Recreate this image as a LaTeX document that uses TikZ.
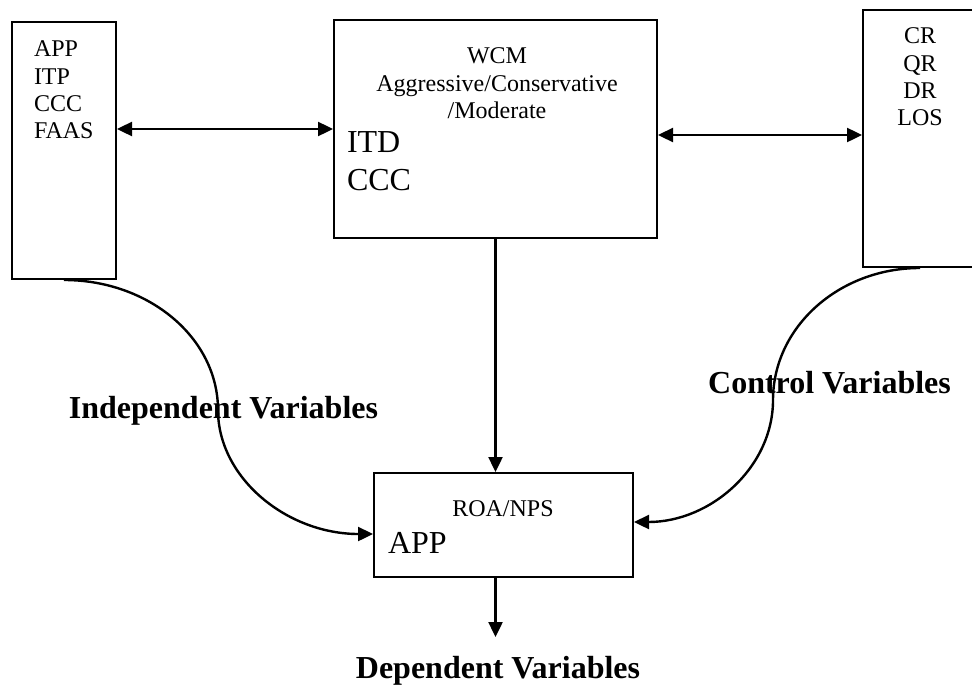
\documentclass[tikz,border=0pt]{standalone}
\usepackage{fontspec}
\setmainfont{Liberation Serif}
\usetikzlibrary{arrows.meta}

\begin{document}
\begin{tikzpicture}[x=0.5pt, y=-0.5pt, line width=1pt,
    >={Triangle[length=7.5pt,width=7pt]},
    box/.style={rectangle, draw, inner sep=0pt},
    link/.style={draw, line width=1.2pt},
    small/.style={inner sep=0pt, font=\fontsize{12}{13.6}\selectfont},
    big/.style={inner sep=0pt, font=\fontsize{16}{19}\selectfont},
    caption/.style={inner sep=0pt, font=\fontsize{16}{19}\selectfont\bfseries}]
    \useasboundingbox (0,0) rectangle (972,685);
    \clip (0,0) rectangle (972,685);

    \node [box, minimum width=52pt, minimum height=128.5pt] (indep) at (64,150.5) {};
    \node [box, minimum width=161.5pt, minimum height=109pt] (wcm) at (495.5,129) {};
    \node [box, minimum width=57pt, minimum height=128.5pt] (ctrl) at (920,138.5) {};
    \node [box, minimum width=129.5pt, minimum height=52pt] (roa) at (503.5,525) {};

    \node [small, align=left, anchor=north west] (indeplist) at (33,40) {APP\\ITP\\CCC\\FAAS};
    \node [small, align=center, anchor=north] (wcmtitle) at (497,47) {WCM\\Aggressive/Conservative\\/Moderate};
    \node [big, align=left, anchor=north west] (wcmlist) at (346,131) {ITD\\CCC};
    \node [small, align=center, anchor=north] (ctrllist) at (920,27) {CR\\QR\\DR\\LOS};
    \node [small, anchor=base] (roatitle) at (503,516) {ROA/NPS};
    \node [big, anchor=base west] (roalist) at (387,553) {APP};

    \node [caption, anchor=base] (indeplabel) at (223.5,418) {Independent Variables};
    \node [caption, anchor=base] (ctrllabel) at (829.5,393) {Control Variables};
    \node [caption, anchor=base] (deplabel) at (498,678) {Dependent Variables};

    \coordinate (indepbend) at (218,410);
    \coordinate (ctrlbend) at (773,400);
    \coordinate (depend) at (495.5,637);

    \path [<->, link] (indep.east |- wcm.west) -- (wcm.west);
    \path [<->, link] ([yshift=-3pt]wcm.east) -- ([yshift=-3pt]wcm.east -| ctrl.west);
    \path [->, link] (wcm.south) -- (wcm.south |- roa.north);
    \path [->, link] (roa.south -| wcm.south) -- (depend);
    \path [->, link] (indep.south) .. controls +(85,0) and +(0,-72) .. (indepbend)
        .. controls +(0,68) and +(-86,0) .. ([yshift=-4.5pt]roa.west);
    \path [->, link] (ctrl.south) .. controls +(-81,0) and +(0,-73) .. (ctrlbend)
        .. controls +(0,67) and +(77,0) .. ([yshift=1.5pt]roa.east);
\end{tikzpicture}
\end{document}
